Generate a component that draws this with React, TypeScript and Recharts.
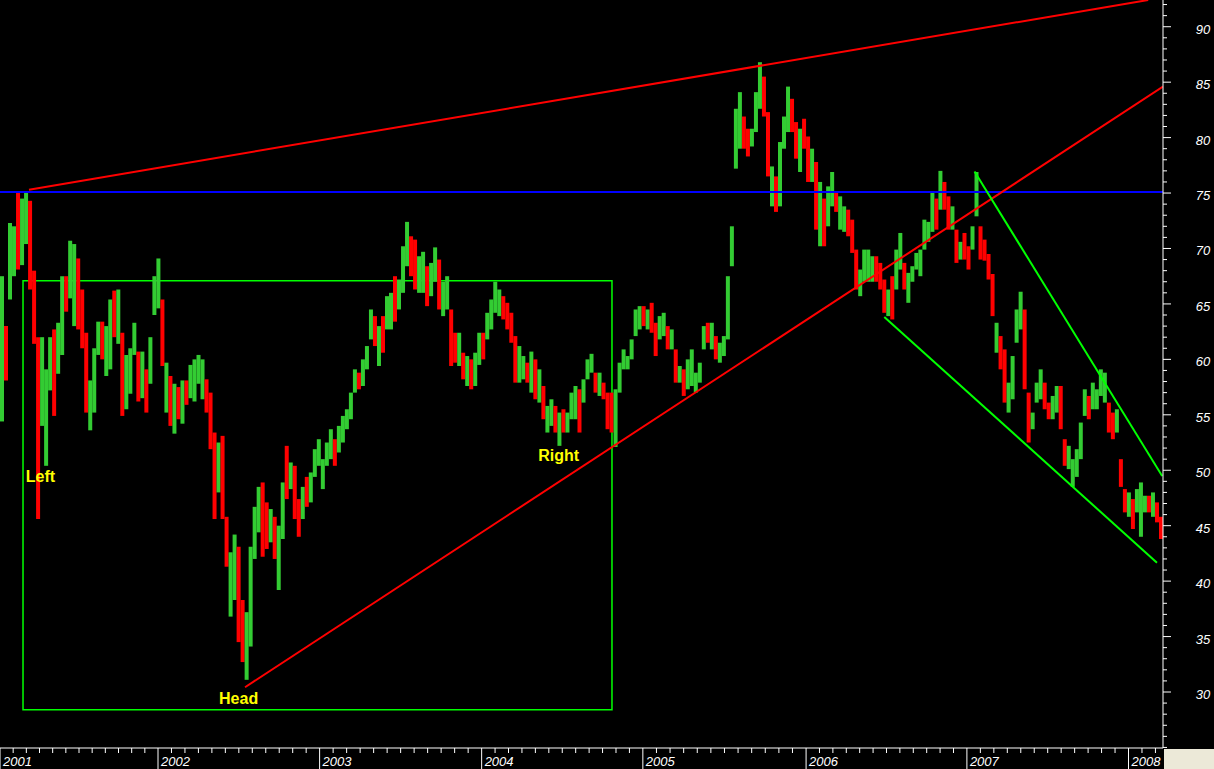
import { ComposedChart, Bar, Cell, XAxis, YAxis, ReferenceLine, ReferenceArea, ReferenceDot } from 'recharts'

// one bar ≈ 9 trading days
const highs = [
  67.5, 63.0, 72.3, 72.0, 75.1, 74.5, 75.1, 74.3, 68.0, 62.0,
  62.0, 59.1, 62.0, 62.7, 63.3, 67.5, 67.5, 70.7, 70.4, 69.1,
  66.3, 62.4, 58.1, 61.0, 63.4, 63.4, 63.0, 65.4, 66.2, 66.3,
  62.4, 60.4, 61.0, 63.3, 60.7, 60.7, 59.1, 62.0, 67.5, 69.1,
  65.4, 59.7, 58.5, 57.8, 57.5, 58.1, 58.1, 59.5, 60.0, 60.4,
  60.0, 58.2, 57.0, 53.4, 52.5, 53.1, 45.8, 42.6, 44.2, 43.1,
  38.3, 37.2, 43.1, 46.7, 48.5, 48.9, 47.1, 46.5, 45.8, 45.0,
  48.9, 52.2, 50.7, 50.4, 47.4, 48.5, 49.4, 49.8, 51.9, 52.8,
  51.0, 52.5, 53.7, 52.8, 54.0, 54.9, 55.5, 57.0, 59.1, 58.8,
  60.0, 61.2, 64.5, 63.9, 63.0, 63.9, 65.7, 66.0, 67.5, 67.2,
  70.2, 72.4, 71.1, 70.8, 69.3, 69.7, 68.4, 68.7, 70.1, 69.0,
  67.0, 67.5, 64.5, 62.4, 62.4, 60.6, 60.3, 60.0, 60.6, 62.4,
  62.4, 64.2, 65.4, 67.0, 66.3, 65.7, 65.1, 64.2, 62.1, 61.2,
  60.3, 59.7, 60.7, 60.0, 59.1, 57.6, 55.8, 56.4, 55.8, 55.2,
  55.5, 55.2, 57.0, 57.6, 57.3, 58.2, 60.0, 60.5, 58.8, 58.8,
  57.9, 57.0, 57.0, 57.3, 59.7, 60.9, 60.3, 61.8, 64.5, 64.8,
  64.8, 64.5, 65.1, 63.3, 63.9, 64.2, 63.0, 62.7, 60.9, 59.4,
  59.1, 60.0, 60.9, 58.8, 59.7, 63.0, 63.3, 63.3, 62.1, 61.5,
  62.1, 67.5, 72.0, 82.6, 84.1, 81.9, 80.8, 80.8, 84.1, 86.8,
  85.5, 82.3, 77.4, 76.5, 79.6, 81.9, 84.6, 83.5, 81.4, 80.8,
  81.7, 80.1, 79.0, 77.8, 76.0, 74.5, 75.6, 76.9, 75.1, 74.7,
  73.8, 73.5, 72.6, 69.9, 68.1, 69.9, 69.9, 69.3, 69.3, 68.7,
  67.2, 66.3, 67.5, 69.9, 71.4, 68.7, 67.8, 68.4, 69.6, 69.9,
  72.6, 72.4, 75.1, 74.5, 77.0, 76.0, 74.7, 73.8, 71.7, 70.6,
  71.4, 70.2, 72.0, 76.9, 72.0, 70.8, 69.5, 67.7, 63.3, 62.1,
  60.9, 57.9, 60.3, 64.5, 66.1, 64.5, 57.0, 55.2, 57.9, 59.1,
  57.9, 56.1, 56.7, 57.6, 57.6, 52.8, 52.2, 51.0, 51.9, 54.3,
  57.3, 56.7, 57.9, 57.3, 59.1, 58.8, 56.1, 55.2, 55.5, 51.0,
  48.3, 48.0, 47.4, 48.3, 48.9, 47.7, 47.7, 48.0, 47.1, 45.8,
]

const lows = [
  54.4, 58.1, 65.4, 67.5, 68.1, 68.5, 70.4, 66.3, 61.4, 45.6,
  54.0, 50.4, 57.2, 54.9, 58.7, 60.4, 64.3, 65.5, 63.0, 62.7,
  61.0, 55.2, 53.6, 55.2, 60.4, 60.0, 58.5, 59.1, 62.0, 61.4,
  54.9, 55.5, 56.9, 60.4, 56.2, 56.5, 55.2, 57.8, 64.0, 64.6,
  59.4, 55.2, 54.0, 53.3, 54.6, 54.2, 55.9, 56.5, 56.2, 57.8,
  56.4, 55.2, 51.9, 45.6, 48.0, 45.6, 41.3, 36.8, 38.3, 34.5,
  32.7, 31.1, 34.1, 42.0, 44.4, 42.2, 42.9, 43.5, 42.0, 39.2,
  43.8, 47.4, 48.3, 45.6, 44.0, 45.6, 46.7, 47.1, 49.4, 50.4,
  48.3, 50.4, 51.0, 50.4, 51.6, 52.5, 53.7, 54.6, 57.0, 57.3,
  57.6, 59.1, 61.8, 61.2, 59.4, 60.6, 62.7, 62.7, 63.4, 64.5,
  66.0, 68.4, 67.5, 66.3, 66.0, 66.0, 64.8, 65.7, 67.0, 64.5,
  63.9, 64.5, 59.4, 59.7, 59.4, 58.2, 57.6, 57.3, 57.6, 59.5,
  60.0, 61.8, 62.7, 64.2, 63.9, 63.6, 62.7, 61.5, 57.9, 57.9,
  58.2, 57.9, 57.0, 56.4, 56.1, 54.6, 53.4, 54.0, 53.4, 52.2,
  53.4, 53.4, 54.6, 54.6, 53.4, 56.1, 58.2, 58.8, 57.0, 56.7,
  56.4, 53.7, 53.4, 52.1, 57.0, 59.1, 59.1, 60.0, 62.1, 62.7,
  63.0, 62.7, 62.4, 60.3, 61.8, 62.1, 60.9, 60.9, 57.9, 57.9,
  56.7, 57.3, 57.6, 57.0, 57.9, 60.9, 61.5, 60.9, 60.0, 59.7,
  60.3, 61.8, 68.4, 77.2, 79.0, 79.0, 78.3, 79.2, 80.5, 82.6,
  81.9, 76.5, 73.8, 73.3, 73.8, 79.0, 80.5, 80.5, 78.1, 76.9,
  79.0, 76.0, 76.0, 71.7, 70.2, 70.2, 72.0, 73.8, 73.3, 71.7,
  71.5, 71.1, 69.6, 66.3, 65.7, 67.0, 67.0, 67.0, 67.0, 66.3,
  64.2, 63.9, 63.6, 66.3, 68.1, 66.3, 65.1, 67.0, 68.1, 67.5,
  69.9, 70.6, 71.5, 71.7, 73.5, 73.5, 71.7, 71.7, 68.7, 69.0,
  69.0, 68.1, 69.9, 72.9, 69.0, 68.9, 67.2, 63.9, 60.6, 59.1,
  56.1, 55.2, 56.4, 61.5, 62.7, 57.3, 52.5, 53.7, 56.1, 56.4,
  55.5, 54.6, 54.6, 55.2, 53.7, 50.4, 50.1, 48.5, 49.4, 51.0,
  54.9, 54.6, 55.5, 55.5, 56.7, 56.1, 53.4, 52.8, 53.4, 48.5,
  46.2, 45.8, 44.7, 46.2, 44.0, 46.2, 46.2, 45.8, 45.3, 43.8,
]

// 1 = closed up (green), 0 = closed down (red)
const ups = [
  1, 0, 1, 1, 0, 1, 1, 0, 0, 0,
  1, 1, 1, 0, 1, 1, 0, 1, 1, 0,
  0, 0, 1, 1, 1, 0, 1, 1, 0, 1,
  0, 1, 1, 1, 0, 1, 0, 1, 1, 1,
  0, 1, 0, 1, 0, 1, 0, 1, 1, 1,
  1, 0, 0, 0, 1, 0, 0, 1, 1, 0,
  0, 1, 1, 1, 1, 0, 0, 1, 0, 1,
  1, 0, 1, 0, 0, 1, 0, 1, 1, 1,
  1, 1, 1, 0, 1, 1, 1, 1, 1, 0,
  1, 1, 1, 0, 1, 0, 1, 1, 0, 1,
  1, 1, 0, 0, 1, 1, 0, 1, 1, 0,
  1, 1, 0, 0, 1, 0, 1, 0, 1, 1,
  0, 1, 1, 1, 1, 0, 0, 0, 0, 1,
  1, 0, 1, 0, 1, 0, 1, 1, 0, 1,
  0, 1, 1, 1, 0, 1, 1, 1, 0, 1,
  0, 0, 0, 1, 1, 1, 1, 1, 1, 1,
  0, 1, 0, 0, 1, 1, 0, 1, 0, 1,
  0, 1, 1, 1, 1, 1, 0, 1, 0, 1,
  1, 1, 1, 1, 1, 0, 0, 1, 1, 1,
  0, 0, 1, 0, 1, 1, 1, 0, 0, 1,
  0, 0, 1, 0, 1, 0, 1, 1, 0, 1,
  1, 0, 0, 0, 1, 1, 1, 1, 0, 0,
  0, 1, 0, 1, 1, 0, 1, 1, 1, 1,
  1, 1, 1, 0, 1, 0, 0, 1, 0, 1,
  0, 0, 1, 1, 0, 0, 0, 0, 1, 0,
  0, 1, 1, 1, 1, 0, 0, 1, 1, 1,
  0, 0, 1, 1, 0, 0, 1, 1, 1, 1,
  1, 0, 1, 1, 1, 1, 0, 0, 1, 0,
  0, 1, 0, 1, 1, 1, 0, 1, 0, 0,
]

const years = ['2001', '2002', '2003', '2004', '2005', '2006', '2007', '2008']
// bar index where each year begins
const yearStarts = [-0.5, 38.9, 79.2, 119.6, 159.8, 200.5, 240.6, 280.9]
const priceLabels = [30, 35, 40, 45, 50, 55, 60, 65, 70, 75, 80, 85, 90]

const LAST = highs.length - 0.5

const data = highs.map((h, i) => ({ i, range: [lows[i], h], up: ups[i] }))

// month ticks between year starts
const monthTicks: number[] = []
yearStarts.forEach((s, k) => {
  const next = yearStarts[k + 1]
  const step = ((next ?? s + 40.3) - s) / 12
  for (let m = 1; m < 12; m++) {
    const v = s + m * step
    if (v < LAST) monthTicks.push(v)
  }
})
const xTicks = [...yearStarts, ...monthTicks].sort((a, b) => a - b)

const yTicks: number[] = []
for (let v = 25; v <= 92; v++) yTicks.push(v)

const font = '"Liberation Sans", Arial, sans-serif'

function DateTick(props: any) {
  const { x, y, payload } = props
  const k = yearStarts.indexOf(payload.value)
  if (k >= 0) {
    return (
      <g>
        <line x1={x} x2={x} y1={y} y2={y + 21} stroke="#fff" />
        <text x={x + 3} y={y + 18} fill="#fff" fontSize={13} fontStyle="italic" fontFamily={font}>
          {years[k]}
        </text>
      </g>
    )
  }
  return <line x1={x} x2={x} y1={y} y2={y + 5} stroke="#fff" />
}

function PriceTick(props: any) {
  const { x, y, payload } = props
  const v = payload.value
  const major = priceLabels.includes(v)
  return (
    <g>
      <line x1={x} x2={x + (major ? 8 : 4)} y1={y} y2={y} stroke="#fff" />
      {major && (
        <text x={x + 40} y={y + 7} textAnchor="middle" fill="#fff" fontSize={13} fontStyle="italic" fontFamily={font}>
          {v}
        </text>
      )}
    </g>
  )
}

const tag = { position: 'center' as const, fill: '#ffff00', fontSize: 16, fontWeight: 'bold', fontFamily: font }

export default function App() {
  return (
    <div style={{ position: 'relative', width: 1214, height: 769, background: '#000' }}>
      <style>{'body{margin:0;background:#000}'}</style>
      <ComposedChart width={1214} height={769} data={data} margin={{ top: 0, right: 0, bottom: 0, left: 0 }}>
        <XAxis
          dataKey="i"
          type="number"
          domain={[-0.5, LAST]}
          ticks={xTicks}
          interval={0}
          height={21}
          tickSize={0}
          tickMargin={0}
          tick={<DateTick />}
          axisLine={{ stroke: '#fff' }}
          tickLine={false}
        />
        <YAxis
          orientation="right"
          type="number"
          domain={[24.95, 92.41]}
          ticks={yTicks}
          interval={0}
          width={51}
          tickSize={0}
          tickMargin={0}
          tick={<PriceTick />}
          axisLine={{ stroke: '#fff' }}
          tickLine={false}
        />
        <Bar dataKey="range" barSize={4} isAnimationActive={false}>
          {data.map((d) => (
            <Cell key={d.i} fill={d.up ? '#33cc33' : '#ff0000'} />
          ))}
        </Bar>
        <ReferenceArea x1={5.24} x2={152.1} y1={28.4} y2={67.1} fill="#000" fillOpacity={0} stroke="#00ff00" strokeOpacity={1} strokeWidth={1.5} ifOverflow="visible" />
        <ReferenceLine y={75.1} stroke="#0000ff" strokeWidth={2} />
        <ReferenceLine segment={[{ x: 6.73, y: 75.3 }, { x: 285.8, y: 92.41 }]} stroke="#ff0000" strokeWidth={2} ifOverflow="hidden" />
        <ReferenceLine segment={[{ x: 60.6, y: 30.43 }, { x: 289.5, y: 84.6 }]} stroke="#ff0000" strokeWidth={2} ifOverflow="hidden" />
        <ReferenceLine segment={[{ x: 242.5, y: 76.95 }, { x: 289.3, y: 49.48 }]} stroke="#00ff00" strokeWidth={2} ifOverflow="hidden" />
        <ReferenceLine segment={[{ x: 220.0, y: 63.83 }, { x: 288.0, y: 41.66 }]} stroke="#00ff00" strokeWidth={2} ifOverflow="hidden" />
        <ReferenceDot x={9.6} y={49.45} r={0} stroke="none" label={{ value: 'Left', ...tag }} />
        <ReferenceDot x={59.0} y={29.4} r={0} stroke="none" label={{ value: 'Head', ...tag }} />
        <ReferenceDot x={138.8} y={51.35} r={0} stroke="none" label={{ value: 'Right', ...tag }} />
      </ComposedChart>
      <div style={{ position: 'absolute', left: 1164, top: 749, width: 50, height: 20, background: '#ece9d8' }} />
    </div>
  )
}
